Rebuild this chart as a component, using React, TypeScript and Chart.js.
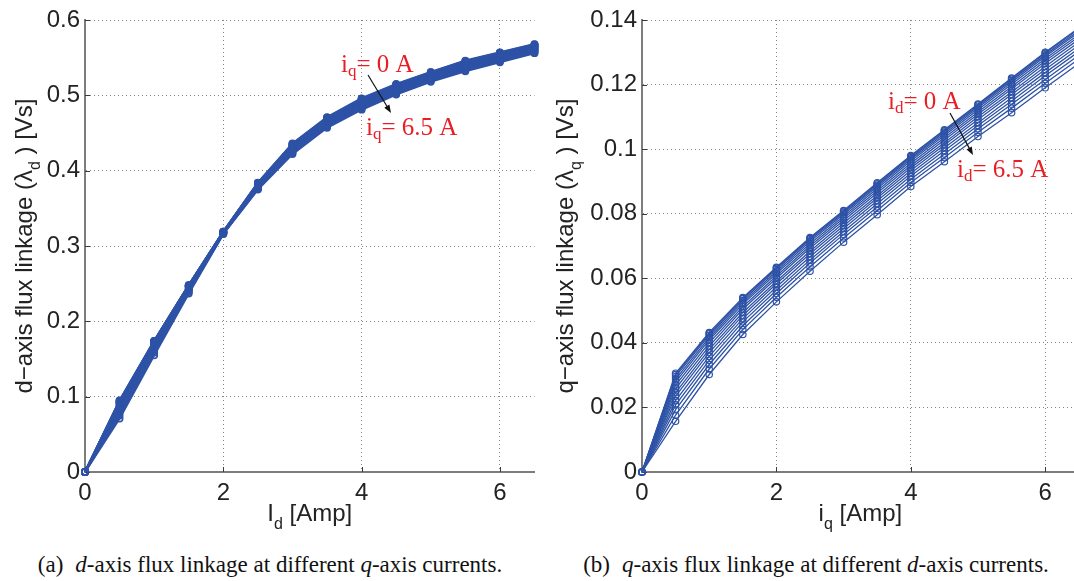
import { useEffect, useRef } from "react";
import { Chart, registerables } from "chart.js";

Chart.register(...registerables);

// Current steps in amperes: used both as the swept axis and as the family parameter.
const currentSteps = [0, 0.5, 1, 1.5, 2, 2.5, 3, 3.5, 4, 4.5, 5, 5.5, 6, 6.5];

// d-axis flux linkage [Vs] vs I_d; one row per i_q (0 A first, 6.5 A last).
const lambdaD: number[][] = [
  [0, 0.095, 0.174, 0.248, 0.319, 0.384, 0.436, 0.471, 0.496, 0.515, 0.531, 0.546, 0.557, 0.568],
  [0, 0.0945, 0.1738, 0.2479, 0.319, 0.3836, 0.4354, 0.4704, 0.4954, 0.5144, 0.5305, 0.5454, 0.5565, 0.5675],
  [0, 0.094, 0.1735, 0.2477, 0.3189, 0.3832, 0.4347, 0.4697, 0.4947, 0.5137, 0.5298, 0.5447, 0.5558, 0.5669],
  [0, 0.093, 0.173, 0.2474, 0.3188, 0.3827, 0.4339, 0.4689, 0.4938, 0.5129, 0.5291, 0.5439, 0.5551, 0.5662],
  [0, 0.092, 0.1722, 0.247, 0.3187, 0.382, 0.4329, 0.4679, 0.4927, 0.5119, 0.5281, 0.5429, 0.5541, 0.5654],
  [0, 0.091, 0.1714, 0.2465, 0.3185, 0.3814, 0.4319, 0.4669, 0.4917, 0.5109, 0.5272, 0.5419, 0.5532, 0.5645],
  [0, 0.09, 0.1704, 0.2458, 0.3183, 0.3807, 0.4308, 0.4658, 0.4905, 0.5098, 0.5262, 0.5408, 0.5522, 0.5636],
  [0, 0.088, 0.169, 0.245, 0.3181, 0.38, 0.4297, 0.4647, 0.4893, 0.5087, 0.5252, 0.5397, 0.5512, 0.5626],
  [0, 0.086, 0.1675, 0.2441, 0.3178, 0.3792, 0.4286, 0.4636, 0.4881, 0.5076, 0.5241, 0.5386, 0.5501, 0.5616],
  [0, 0.084, 0.1658, 0.2431, 0.3175, 0.3784, 0.4273, 0.4623, 0.4867, 0.5063, 0.5229, 0.5373, 0.5489, 0.5606],
  [0, 0.082, 0.1638, 0.2419, 0.3172, 0.3776, 0.4261, 0.4611, 0.4854, 0.5051, 0.5218, 0.5361, 0.5478, 0.5595],
  [0, 0.079, 0.1615, 0.2405, 0.3168, 0.3768, 0.4248, 0.4598, 0.484, 0.5038, 0.5206, 0.5348, 0.5466, 0.5584],
  [0, 0.075, 0.1585, 0.2389, 0.3164, 0.3759, 0.4234, 0.4584, 0.4825, 0.5024, 0.5193, 0.5334, 0.5453, 0.5572],
  [0, 0.071, 0.155, 0.237, 0.316, 0.375, 0.422, 0.457, 0.481, 0.501, 0.518, 0.532, 0.544, 0.556],
];

// q-axis flux linkage [Vs] vs i_q; one row per i_d (0 A first, 6.5 A last).
const lambdaQ: number[][] = [
  [0, 0.0306, 0.0432, 0.054, 0.0634, 0.0726, 0.081, 0.0896, 0.098, 0.106, 0.114, 0.122, 0.13, 0.1375],
  [0, 0.0302, 0.0428, 0.0537, 0.0631, 0.0723, 0.0807, 0.0893, 0.0977, 0.1057, 0.1137, 0.1217, 0.1297, 0.1372],
  [0, 0.0296, 0.0423, 0.0532, 0.0627, 0.0719, 0.0803, 0.0889, 0.0973, 0.1053, 0.1133, 0.1213, 0.1292, 0.1367],
  [0, 0.0288, 0.0416, 0.0526, 0.0621, 0.0714, 0.0798, 0.0884, 0.0969, 0.1048, 0.1128, 0.1207, 0.1287, 0.1362],
  [0, 0.0279, 0.0409, 0.052, 0.0615, 0.0707, 0.0792, 0.0878, 0.0963, 0.1042, 0.1122, 0.1201, 0.128, 0.1355],
  [0, 0.0269, 0.04, 0.0512, 0.0607, 0.07, 0.0786, 0.0871, 0.0956, 0.1035, 0.1115, 0.1193, 0.1273, 0.1348],
  [0, 0.0258, 0.039, 0.0504, 0.06, 0.0693, 0.0779, 0.0864, 0.0949, 0.1028, 0.1108, 0.1186, 0.1265, 0.134],
  [0, 0.0246, 0.038, 0.0494, 0.0591, 0.0684, 0.0771, 0.0856, 0.0942, 0.102, 0.11, 0.1177, 0.1256, 0.1331],
  [0, 0.0235, 0.037, 0.0485, 0.0583, 0.0676, 0.0763, 0.0849, 0.0934, 0.1013, 0.1092, 0.1169, 0.1247, 0.1322],
  [0, 0.0221, 0.0358, 0.0475, 0.0573, 0.0667, 0.0754, 0.084, 0.0925, 0.1004, 0.1082, 0.1159, 0.1237, 0.1312],
  [0, 0.0208, 0.0346, 0.0465, 0.0563, 0.0657, 0.0745, 0.0831, 0.0917, 0.0995, 0.1073, 0.1149, 0.1227, 0.1302],
  [0, 0.0193, 0.0333, 0.0453, 0.0553, 0.0647, 0.0736, 0.0821, 0.0907, 0.0985, 0.1063, 0.1139, 0.1216, 0.1291],
  [0, 0.0176, 0.0319, 0.0441, 0.0541, 0.0636, 0.0725, 0.081, 0.0897, 0.0974, 0.1052, 0.1127, 0.1204, 0.1279],
  [0, 0.0157, 0.0302, 0.0426, 0.0527, 0.0622, 0.0712, 0.0797, 0.0884, 0.0961, 0.1039, 0.1113, 0.119, 0.1265],
];

// Tick positions
const currentTicks = [0, 2, 4, 6];
const lambdaDTicks = [0, 0.1, 0.2, 0.3, 0.4, 0.5, 0.6];
const lambdaQTicks = [0, 0.02, 0.04, 0.06, 0.08, 0.1, 0.12, 0.14];

const BLUE = "rgb(45, 82, 166)";
const RED = "#ea1d25";
const INK = "#232323";
const SANS = '"Liberation Sans", Arial, Helvetica, sans-serif';
const SERIF = '"Liberation Serif", "Times New Roman", serif';

type Part = { t: string; sub?: boolean };
type Note = { parts: Part[]; x: number; y: number };
type Arrow = { x1: number; y1: number; x2: number; y2: number };

interface PanelProps {
  left: number;
  width: number;
  height: number;
  rows: number[][];
  yTicks: number[];
  yMax: number;
  yAxisWidth: number;
  padRight: number;
  lineWidth: number;
  pointWidth: number;
  xTitle: Part[];
  yTitle: Part[];
  yTitleX: number;
  notes: Note[];
  arrow: Arrow;
  seriesName: string;
}

function drawParts(
  ctx: CanvasRenderingContext2D,
  parts: Part[],
  x: number,
  y: number,
  size: number,
  subSize: number,
  drop: number,
  family: string,
  color: string,
  align: "center" | "left"
) {
  ctx.save();
  ctx.fillStyle = color;
  ctx.textBaseline = "alphabetic";
  ctx.textAlign = "left";
  const widths = parts.map((p) => {
    ctx.font = `${p.sub ? subSize : size}px ${family}`;
    return ctx.measureText(p.t).width;
  });
  const total = widths.reduce((a, b) => a + b, 0);
  let cx = align === "center" ? x - total / 2 : x;
  parts.forEach((p, i) => {
    ctx.font = `${p.sub ? subSize : size}px ${family}`;
    ctx.fillText(p.t, cx, y + (p.sub ? drop : 0));
    cx += widths[i];
  });
  ctx.restore();
}

const fmt = (v: number | string) => String(+Number(v).toFixed(3));

function FluxPanel(props: PanelProps) {
  const ref = useRef<HTMLCanvasElement>(null);

  useEffect(() => {
    const canvas = ref.current;
    if (!canvas) return;

    const decor = {
      id: "decor",
      beforeDatasetsDraw(chart: Chart) {
        // MATLAB-style inward tick marks
        const { ctx, chartArea } = chart;
        const xs = chart.scales.x;
        const ys = chart.scales.y;
        ctx.save();
        ctx.strokeStyle = "#3a3a3a";
        ctx.lineWidth = 1;
        ctx.beginPath();
        xs.ticks.forEach((t) => {
          const px = Math.round(xs.getPixelForValue(t.value)) + 0.5;
          ctx.moveTo(px, chartArea.bottom);
          ctx.lineTo(px, chartArea.bottom - 5);
        });
        ys.ticks.forEach((t) => {
          const py = Math.round(ys.getPixelForValue(t.value)) + 0.5;
          ctx.moveTo(chartArea.left, py);
          ctx.lineTo(chartArea.left + 5, py);
        });
        ctx.stroke();
        ctx.restore();
      },
      afterDraw(chart: Chart) {
        const { ctx, chartArea } = chart;
        const cxMid = (chartArea.left + chartArea.right) / 2;
        const cyMid = (chartArea.top + chartArea.bottom) / 2;

        // x-axis title
        drawParts(ctx, props.xTitle, cxMid, 521, 24, 16, 8, SANS, INK, "center");

        // y-axis title, rotated
        ctx.save();
        ctx.translate(props.yTitleX, cyMid);
        ctx.rotate(-Math.PI / 2);
        drawParts(ctx, props.yTitle, 0, 0, 24, 16, 8, SANS, INK, "center");
        ctx.restore();

        // red annotations
        props.notes.forEach((n) => drawParts(ctx, n.parts, n.x, n.y, 25, 17, 4, SERIF, RED, "left"));

        // arrow between the annotations
        const { x1, y1, x2, y2 } = props.arrow;
        const ang = Math.atan2(y2 - y1, x2 - x1);
        const head = 8;
        ctx.save();
        ctx.strokeStyle = "#111";
        ctx.fillStyle = "#111";
        ctx.lineWidth = 1.2;
        ctx.beginPath();
        ctx.moveTo(x1, y1);
        ctx.lineTo(x2 - Math.cos(ang) * head * 0.8, y2 - Math.sin(ang) * head * 0.8);
        ctx.stroke();
        ctx.beginPath();
        ctx.moveTo(x2, y2);
        ctx.lineTo(
          x2 - head * Math.cos(ang) + 3 * Math.sin(ang),
          y2 - head * Math.sin(ang) - 3 * Math.cos(ang)
        );
        ctx.lineTo(
          x2 - head * Math.cos(ang) - 3 * Math.sin(ang),
          y2 - head * Math.sin(ang) + 3 * Math.cos(ang)
        );
        ctx.closePath();
        ctx.fill();
        ctx.restore();
      },
    };

    const tickFont = { family: SANS, size: 24 };
    const grid = { color: "rgba(110,110,110,0.85)", lineWidth: 1, drawTicks: false };
    const border = { display: true, color: "#7d7d7d", width: 2, dash: [1, 3] };

    const chart = new Chart(canvas, {
      type: "line",
      data: {
        datasets: props.rows.map((row, k) => ({
          label: `${props.seriesName} = ${currentSteps[k]} A`,
          data: row.map((v, i) => ({ x: currentSteps[i], y: v })),
          borderColor: BLUE,
          borderWidth: props.lineWidth,
          pointRadius: 3.2,
          pointBorderWidth: props.pointWidth,
          pointBorderColor: BLUE,
          pointBackgroundColor: "rgba(0,0,0,0)",
          fill: false,
          tension: 0,
          clip: false as any,
        })),
      },
      options: {
        responsive: false,
        animation: false,
        events: [],
        layout: { padding: { top: 20, right: props.padRight, left: 0, bottom: 0 } },
        plugins: { legend: { display: false }, tooltip: { enabled: false } },
        scales: {
          x: {
            type: "linear",
            min: 0,
            max: 6.5,
            afterFit: (s: any) => {
              s.height = props.height - 472;
            },
            afterBuildTicks: (s: any) => {
              s.ticks = currentTicks.map((v) => ({ value: v }));
            },
            ticks: { font: tickFont, color: INK, padding: 7, maxRotation: 0, autoSkip: false, callback: fmt },
            grid,
            border,
          },
          y: {
            type: "linear",
            min: 0,
            max: props.yMax,
            afterFit: (s: any) => {
              s.width = props.yAxisWidth;
            },
            afterBuildTicks: (s: any) => {
              s.ticks = props.yTicks.map((v) => ({ value: v }));
            },
            ticks: { font: tickFont, color: INK, padding: 5, autoSkip: false, callback: fmt },
            grid,
            border,
          },
        },
      },
      plugins: [decor],
    });
    return () => chart.destroy();
  }, []);

  return (
    <canvas
      ref={ref}
      width={props.width}
      height={props.height}
      style={{ position: "absolute", left: props.left, top: 0, width: props.width, height: props.height }}
    />
  );
}

const captionStyle: React.CSSProperties = {
  position: "absolute",
  top: 552,
  textAlign: "center",
  fontFamily: SERIF,
  fontSize: 23,
  lineHeight: "26px",
  color: "#111",
  whiteSpace: "nowrap",
};

export default function App() {
  return (
    <div
      style={{
        position: "fixed",
        left: 0,
        top: 0,
        width: 1074,
        height: 581,
        overflow: "hidden",
        background: "#fff",
      }}
    >
      <FluxPanel
        left={0}
        width={540}
        height={545}
        rows={lambdaD}
        yTicks={lambdaDTicks}
        yMax={0.6}
        yAxisWidth={85}
        padRight={5}
        lineWidth={2.2}
        pointWidth={1.5}
        xTitle={[{ t: "I" }, { t: "d", sub: true }, { t: " [Amp]" }]}
        yTitle={[{ t: "d\u2212axis flux linkage (\u03bb" }, { t: "d", sub: true }, { t: " ) [Vs]" }]}
        yTitleX={32}
        notes={[
          { parts: [{ t: "i" }, { t: "q", sub: true }, { t: "= 0 A" }], x: 341, y: 72 },
          { parts: [{ t: "i" }, { t: "q", sub: true }, { t: "= 6.5 A" }], x: 366, y: 135 },
        ]}
        arrow={{ x1: 368, y1: 75, x2: 391, y2: 113 }}
        seriesName="iq"
      />
      <FluxPanel
        left={540}
        width={544}
        height={545}
        rows={lambdaQ}
        yTicks={lambdaQTicks}
        yMax={0.14}
        yAxisWidth={102}
        padRight={5}
        lineWidth={1.3}
        pointWidth={1.2}
        xTitle={[{ t: "i" }, { t: "q", sub: true }, { t: " [Amp]" }]}
        yTitle={[{ t: "q\u2212axis flux linkage (\u03bb" }, { t: "q", sub: true }, { t: " ) [Vs]" }]}
        yTitleX={33}
        notes={[
          { parts: [{ t: "i" }, { t: "d", sub: true }, { t: "= 0 A" }], x: 348, y: 109 },
          { parts: [{ t: "i" }, { t: "d", sub: true }, { t: "= 6.5 A" }], x: 417, y: 177 },
        ]}
        arrow={{ x1: 410, y1: 113, x2: 433, y2: 155 }}
        seriesName="id"
      />
      <div style={{ ...captionStyle, left: 0, width: 540 }}>
        (a)<span style={{ display: "inline-block", width: 12 }} />
        <i>d</i>-axis flux linkage at different <i>q</i>-axis currents.
      </div>
      <div style={{ ...captionStyle, left: 540, width: 552 }}>
        (b)<span style={{ display: "inline-block", width: 12 }} />
        <i>q</i>-axis flux linkage at different <i>d</i>-axis currents.
      </div>
    </div>
  );
}
